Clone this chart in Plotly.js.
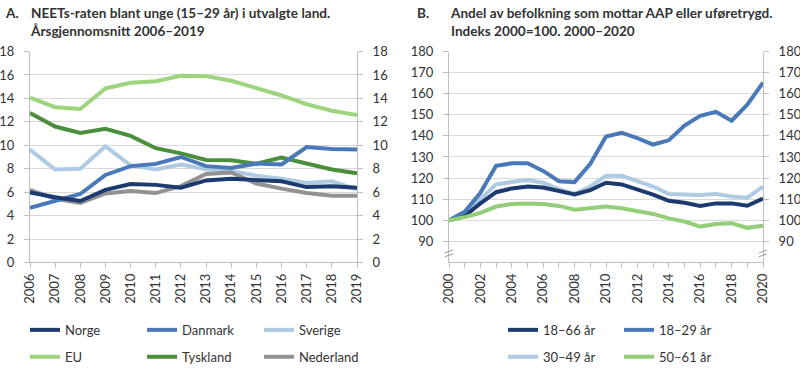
<!DOCTYPE html>
<html><head><meta charset="utf-8">
<script src="https://cdn.plot.ly/plotly-3.0.1.min.js"></script>
<style>body{margin:0;background:#fff}#c{width:800px;height:372px}</style>
</head><body><div id="c"></div>
<script>
// Panel A data
const yearsA = [2006,2007,2008,2009,2010,2011,2012,2013,2014,2015,2016,2017,2018,2019];
const norge     = [5.97,5.56,5.24,6.19,6.70,6.62,6.38,7.00,7.14,7.00,6.92,6.43,6.51,6.38];
const danmark   = [4.67,5.29,5.84,7.47,8.22,8.41,9.00,8.22,8.06,8.44,8.36,9.85,9.69,9.63];
const sverige   = [9.63,7.93,8.00,9.91,8.28,7.93,8.36,7.95,7.80,7.41,7.14,6.79,6.92,6.24];
const eu        = [14.06,13.25,13.10,14.85,15.33,15.47,15.93,15.90,15.50,14.90,14.25,13.50,12.95,12.57];
const tyskland  = [12.76,11.60,11.05,11.40,10.80,9.75,9.31,8.74,8.72,8.42,8.96,8.42,7.93,7.60];
const nederland = [6.19,5.43,5.08,5.89,6.10,5.92,6.51,7.55,7.68,6.73,6.30,5.92,5.70,5.70];
const namesA = ["Norge","Danmark","Sverige","EU","Tyskland","Nederland"];

// Panel B data
const yearsB = [2000,2001,2002,2003,2004,2005,2006,2007,2008,2009,2010,2011,2012,2013,2014,2015,2016,2017,2018,2019,2020];
const age18_66 = [100,102,108,113.3,115.1,116,115.5,114,112.2,114.3,117.8,117,114.8,112.2,109.2,108.3,106.8,108,108,106.9,110.3];
const age18_29 = [100,104,113,125.8,127,127,123.4,118.5,118.1,126.8,139.7,141.5,138.9,135.9,137.9,144.9,149.5,151.4,147.2,154.8,165.3];
const age30_49 = [100,103,110,117,118.1,119.1,117.8,114.8,112.5,116,121.1,121.1,118.5,116,112.5,112.2,112,112.5,111.3,110.7,116];
const age50_61 = [100,101.5,103.5,106.5,107.7,108,107.7,106.8,105,105.6,106.5,105.7,104.5,103,100.9,99.4,97,98.2,98.6,96.4,97.4];
const namesB = ["18–66 år","18–29 år","30–49 år","50–61 år"];

const FONT = "Lato, 'Open Sans', sans-serif";
const TXT = "#333";
const C = {norge:"#1d3a6e", danmark:"#4a79b9", sverige:"#aecbe3", eu:"#9fd47f", tysk:"#4b8e3b", ned:"#929292",
           b1:"#1d3a6e", b2:"#4a79b9", b3:"#aecbe3", b4:"#92cf78"};
const W = 4;
function tr(x,y,name,color,xa,ya,legend){
  return {x:x,y:y,name:name,type:"scatter",mode:"lines",line:{color:color,width:W},
          xaxis:xa,yaxis:ya,legend:legend,legendgroup:name};
}
const data = [
  tr(yearsA,eu,namesA[3],C.eu,"x","y2","legend"),
  tr(yearsA,tyskland,namesA[4],C.tysk,"x","y","legend2"),
  tr(yearsA,sverige,namesA[2],C.sverige,"x","y","legend3"),
  tr(yearsA,nederland,namesA[5],C.ned,"x","y","legend3"),
  tr(yearsA,danmark,namesA[1],C.danmark,"x","y","legend2"),
  tr(yearsA,norge,namesA[0],C.norge,"x","y","legend"),
  tr(yearsB,age50_61,namesB[3],C.b4,"x2","y4","legend5"),
  tr(yearsB,age30_49,namesB[2],C.b3,"x2","y3","legend4"),
  tr(yearsB,age18_66,namesB[0],C.b1,"x2","y3","legend4"),
  tr(yearsB,age18_29,namesB[1],C.b2,"x2","y3","legend5")
];
data[5].legendrank=1; data[0].legendrank=2;
data[4].legendrank=1; data[1].legendrank=2;
data[2].legendrank=1; data[3].legendrank=2;
data[8].legendrank=1; data[7].legendrank=2;
data[9].legendrank=1; data[6].legendrank=2;

const H=372, Wd=800;
const ydom=[(H-275)/H,(H-54)/H];
const axLine="#bfbfbf", grid="#d9d9d9";
const tickf={family:FONT,size:13,color:TXT};
function xax(dom,range,dtick,anchor){
  return {domain:dom,range:range,dtick:dtick,tick0:range[0],anchor:anchor,showgrid:false,zeroline:false,
          showline:true,linecolor:axLine,linewidth:1,ticks:"outside",ticklen:5,tickcolor:axLine,
          tickangle:-90,tickfont:tickf,fixedrange:true};
}
function yax(range,tickvals,anchor,side,overlay,showgrid){
  const a={domain:ydom,range:range,tickvals:tickvals,anchor:anchor,side:side,showgrid:showgrid,gridcolor:grid,
          zeroline:false,showline:true,linecolor:axLine,linewidth:1,ticks:"outside",ticklen:5,tickcolor:axLine,
          tickfont:tickf,ticklabelstandoff:7,fixedrange:true};
  if(overlay) a.overlaying=overlay;
  return a;
}
const ticksA=[0,2,4,6,8,10,12,14,16,18];
const ticksB=[90,100,110,120,130,140,150,160,170,180];
const xb=xax([449/Wd,763/Wd],[2000,2020],2,"y3");
xb.minor={dtick:1,ticks:"outside",ticklen:5,tickcolor:axLine};
function leg(x,y){
  return {x:x/Wd,y:(H-y)/H,xanchor:"left",yanchor:"top",orientation:"v",bgcolor:"rgba(0,0,0,0)",
          font:{family:FONT,size:13,color:TXT},tracegroupgap:7,itemwidth:30,itemclick:false};
}
const layout={
  width:800,height:372,margin:{l:0,r:0,t:0,b:0},paper_bgcolor:"#fff",plot_bgcolor:"#fff",
  font:{family:FONT,color:TXT},
  xaxis:xax([30/Wd,357/Wd],[2006,2019],1,"y"),
  yaxis:yax([0,18],ticksA,"x","left",null,true),
  yaxis2:yax([0,18],ticksA,"x","right","y",false),
  xaxis2:xb,
  yaxis3:yax([80,180],ticksB,"x2","left",null,true),
  yaxis4:yax([80,180],ticksB,"x2","right","y3",false),
  showlegend:true,
  legend:leg(25,330), legend2:leg(142,330), legend3:leg(259,330),
  legend4:leg(503,330), legend5:leg(619,330),
  annotations:[
    {text:"<b>A.</b>",x:3/Wd,y:(H-3)/H,xref:"paper",yref:"paper",xanchor:"left",yanchor:"top",showarrow:false,font:{family:FONT,size:13.6,color:TXT}},
    {text:"<b>NEETs-raten blant unge (15–29 år) i utvalgte land.<br>Årsgjennomsnitt 2006–2019</b>",x:28/Wd,y:(H-3)/H,xref:"paper",yref:"paper",xanchor:"left",yanchor:"top",align:"left",showarrow:false,font:{family:FONT,size:13.6,color:TXT}},
    {text:"<b>B.</b>",x:415/Wd,y:(H-3)/H,xref:"paper",yref:"paper",xanchor:"left",yanchor:"top",showarrow:false,font:{family:FONT,size:13.6,color:TXT}},
    {text:"<b>Andel av befolkning som mottar AAP eller uføretrygd.<br>Indeks 2000=100. 2000–2020</b>",x:448/Wd,y:(H-3)/H,xref:"paper",yref:"paper",xanchor:"left",yanchor:"top",align:"left",showarrow:false,font:{family:FONT,size:13.6,color:TXT}}
  ],
  shapes:[
    {type:"line",xref:"paper",yref:"paper",x0:445/Wd,x1:453/Wd,y0:(H-265)/H,y1:(H-262)/H,line:{color:"#999",width:1}},
    {type:"line",xref:"paper",yref:"paper",x0:445/Wd,x1:453/Wd,y0:(H-269)/H,y1:(H-266)/H,line:{color:"#999",width:1}},
    {type:"line",xref:"paper",yref:"paper",x0:759/Wd,x1:767/Wd,y0:(H-265)/H,y1:(H-262)/H,line:{color:"#999",width:1}},
    {type:"line",xref:"paper",yref:"paper",x0:759/Wd,x1:767/Wd,y0:(H-269)/H,y1:(H-266)/H,line:{color:"#999",width:1}}
  ]
};
Plotly.newPlot("c",data,layout,{displayModeBar:false,staticPlot:true});
</script></body></html>
